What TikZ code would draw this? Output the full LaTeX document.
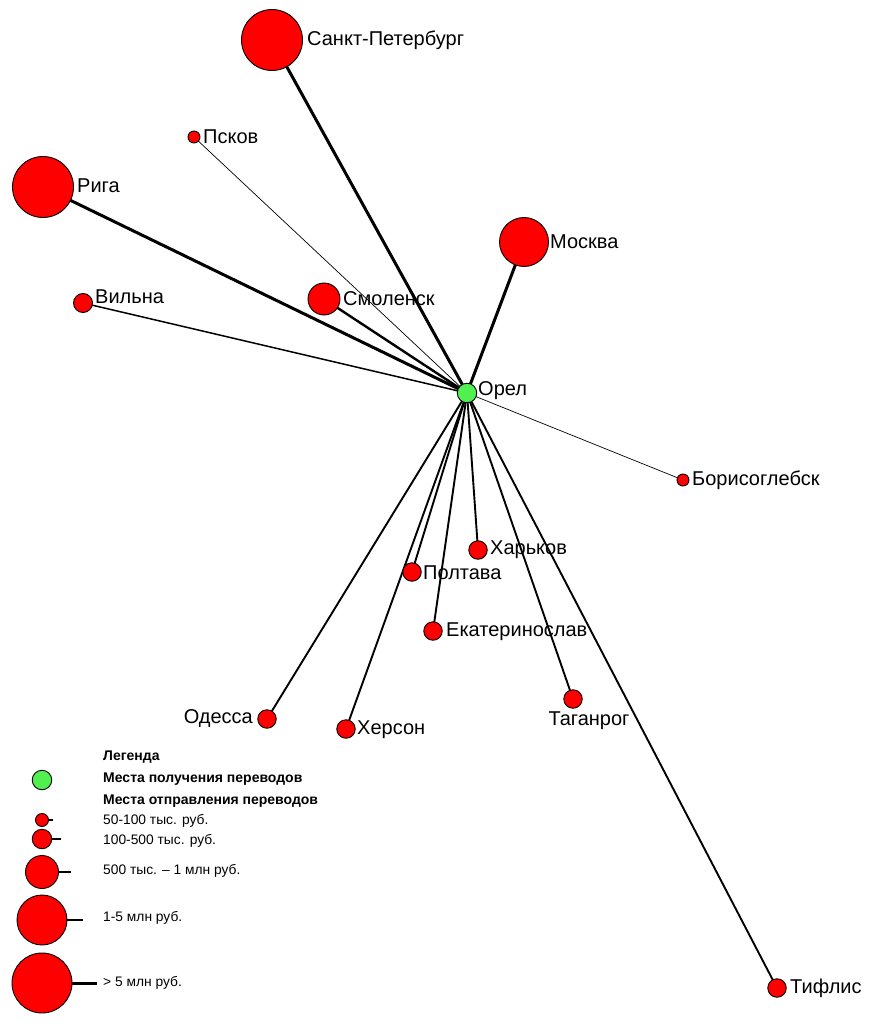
\documentclass[tikz,border=0pt]{standalone}
\usepackage{fontspec}
\setmainfont{Liberation Sans}
\begin{document}
\begin{tikzpicture}[x=1pt,y=-1pt,
  city/.style={circle,draw=black,line width=0.9pt,fill=red,inner sep=0pt,minimum size=#1},
  hub/.style={circle,draw=black,line width=0.9pt,fill={rgb,255:red,80;green,240;blue,80},inner sep=0pt,minimum size=19.5pt},
  lbl/.style={font=\fontsize{20}{22}\selectfont,inner sep=0pt},
  lgt/.style={font=\fontsize{13.8}{15}\selectfont,anchor=west,inner sep=0pt},
  lgb/.style={font=\bfseries\fontsize{14}{16}\selectfont,anchor=west,inner sep=0pt},
  ethin/.style={line width=0.7pt},
  evil/.style={line width=1.5pt},
  emid/.style={line width=1.9pt},
  esmo/.style={line width=2.4pt},
  ebig/.style={line width=3pt}]
\useasboundingbox (0,0) rectangle (874,1024);
% edges drawn first (behind nodes)
\coordinate (o) at (467,393);
\coordinate (spb) at (272,40);
\coordinate (psk) at (194,137);
\coordinate (rig) at (43,187);
\coordinate (vil) at (83,303);
\coordinate (smo) at (324,299);
\coordinate (msk) at (524,242);
\coordinate (bor) at (683,480);
\coordinate (kha) at (478,550);
\coordinate (pol) at (412,572);
\coordinate (eka) at (433,631);
\coordinate (ode) at (267,719);
\coordinate (khe) at (346,729);
\coordinate (tag) at (573,699);
\coordinate (tif) at (777,988);
\draw[ebig] (o) -- (spb);
\draw[ethin] (o) -- (psk);
\draw[ebig] (o) -- (rig);
\draw[evil] (o) -- (vil);
\draw[esmo] (o) -- (smo);
\draw[ebig] (o) -- (msk);
\draw[ethin] (o) -- (bor);
\draw[emid] (o) -- (kha);
\draw[emid] (o) -- (pol);
\draw[emid] (o) -- (eka);
\draw[emid] (o) -- (ode);
\draw[emid] (o) -- (khe);
\draw[emid] (o) -- (tag);
\draw[emid] (o) -- (tif);
% nodes
\node[city=61pt] (nspb) at (spb) {};
\node[city=12pt] (npsk) at (psk) {};
\node[city=61pt] (nrig) at (rig) {};
\node[city=19pt] (nvil) at (vil) {};
\node[city=32pt] (nsmo) at (smo) {};
\node[city=49pt] (nmsk) at (msk) {};
\node[city=12pt] (nbor) at (bor) {};
\node[city=18.5pt] (nkha) at (kha) {};
\node[city=18.5pt] (npol) at (pol) {};
\node[city=18.5pt] (neka) at (eka) {};
\node[city=18.5pt] (node) at (ode) {};
\node[city=18.5pt] (nkhe) at (khe) {};
\node[city=18.5pt] (ntag) at (tag) {};
\node[city=18.5pt] (ntif) at (tif) {};
\node[hub] (nor) at (o) {};
% labels
\node[lbl,anchor=west] (tspb) at (307,40) {Санкт-Петербург};
\node[lbl,anchor=west] (tpsk) at (203,137) {Псков};
\node[lbl,anchor=west] (trig) at (77,186) {Рига};
\node[lbl,anchor=west] (tvil) at (95,297) {Вильна};
\node[lbl,anchor=west] (tsmo) at (343,299) {Смоленск};
\node[lbl,anchor=west] (tmsk) at (550,242) {Москва};
\node[lbl,anchor=west] (tor) at (478,391) {Орел};
\node[lbl,anchor=west] (tbor) at (692,480) {Борисоглебск};
\node[lbl,anchor=west] (tkha) at (490,550) {Харьков};
\node[lbl,anchor=west] (tpol) at (423,573) {Полтава};
\node[lbl,anchor=west] (teka) at (446,632) {Екатеринослав};
\node[lbl,anchor=east] (tode) at (253,719) {Одесса};
\node[lbl,anchor=west] (tkhe) at (357,730) {Херсон};
\node[lbl] (ttag) at (589,721) {Таганрог};
\node[lbl,anchor=west] (ttif) at (790,988) {Тифлис};
% legend
\node[lgb] (lg0) at (103,757) {Легенда};
\node[hub] (lgh) at (42,780) {};
\node[lgb] (lg1) at (103,779) {Места получения переводов};
\node[lgb] (lg2) at (103,801) {Места отправления переводов};
\node[city=13pt] (lc1) at (42,820) {};
\coordinate (le1) at (53,820);
\draw[line width=1.2pt] (lc1) -- (le1);
\node[lgt] (lt1) at (103,821) {50-100 тыс. руб.};
\node[city=19.5pt] (lc2) at (42,839) {};
\coordinate (le2) at (61,839);
\draw[line width=1.5pt] (lc2) -- (le2);
\node[lgt] (lt2) at (103,841) {100-500 тыс. руб.};
\node[city=33pt] (lc3) at (42,872) {};
\coordinate (le3) at (71,872);
\draw[line width=2pt] (lc3) -- (le3);
\node[lgt] (lt3) at (103,871) {500 тыс. – 1 млн руб.};
\node[city=50pt] (lc4) at (42,920) {};
\coordinate (le4) at (83,920);
\draw[line width=2.6pt] (lc4) -- (le4);
\node[lgt] (lt4) at (103,918) {1-5 млн руб.};
\node[city=60pt] (lc5) at (42,983) {};
\coordinate (le5) at (97,983);
\draw[line width=3pt] (lc5) -- (le5);
\node[lgt] (lt5) at (103,983) {> 5 млн руб.};
\end{tikzpicture}
\end{document}
